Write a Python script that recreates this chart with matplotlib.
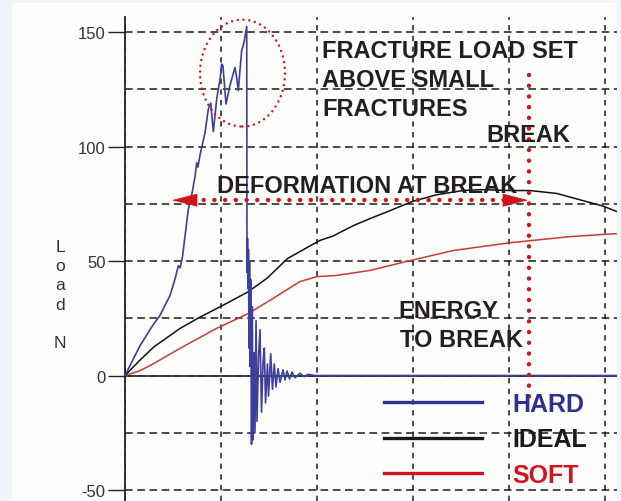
import matplotlib.pyplot as plt
from matplotlib.lines import Line2D
from matplotlib.patches import Ellipse, Rectangle, FancyArrowPatch
from matplotlib.ticker import MultipleLocator

plt.rcParams['axes.unicode_minus'] = False

# load curves, x in grid divisions, y in N
hard_x = [0, 0.156, 0.29, 0.365, 0.469, 0.52, 0.556, 0.575, 0.60, 0.66, 0.70, 0.73,
          0.747, 0.76, 0.78, 0.833, 0.868, 0.893, 0.92, 0.955, 0.99, 1.007, 1.02,
          1.052, 1.094, 1.146, 1.163, 1.18, 1.215, 1.24, 1.268,
          1.271, 1.276, 1.281, 1.286, 1.292, 1.297, 1.302, 1.309, 1.318, 1.326,
          1.333, 1.344, 1.354, 1.365, 1.375, 1.391, 1.406, 1.422, 1.438, 1.451,
          1.464, 1.484, 1.495, 1.518, 1.536, 1.555, 1.573, 1.594, 1.615, 1.646,
          1.667, 1.688, 1.714, 1.740, 1.771, 1.823, 1.865, 1.906, 1.979, 5.2]
hard_y = [0, 13, 22, 26.3, 35, 42, 48, 47, 52.3, 72.7, 80, 87,
          93, 91, 96, 106, 116.4, 119, 106.5, 120.7, 129.5, 136, 135.3,
          118.6, 126.8, 134.6, 130.2, 124.4, 141.8, 145.5, 152.5,
          45, 60, 38, 55, 12, 50, 4, 42, -30, 30,
          -28, 10, -25, 24, -20, 8, 20, -16, 6, 12,
          -12, 5, -9, 9.5, -6, 5, -5, 3, -3, 2.5,
          -2, 2, -1.5, 1.5, -1, 1, -0.5, 0.5, 0, 0]

ideal_x = [0, 0.15, 0.30, 0.47, 0.57, 0.78, 0.99, 1.28, 1.48, 1.69, 1.90, 2.03, 2.17,
           2.38, 2.55, 2.76, 2.99, 3.25, 3.52, 3.70, 4.01, 4.22, 4.50, 4.77, 4.98, 5.125]
ideal_y = [0, 6.5, 12.5, 17.5, 20.5, 25.5, 30, 36.5, 42.5, 51, 56, 59, 61,
           65.5, 68.5, 72, 76, 79, 80.8, 81.2, 80.8, 80.8, 79.5, 76.4, 74, 71.6]

soft_x = [0, 0.15, 0.29, 0.57, 0.95, 1.28, 1.54, 1.82, 2.0, 2.2, 2.55, 2.97, 3.42,
          4.01, 4.64, 5.125]
soft_y = [0, 2, 5, 11.8, 20.5, 27, 33.6, 41, 43.2, 43.7, 45.9, 50.2, 54.6,
          58, 60.7, 62]

y_ticks = [-50, 0, 50, 100, 150]
legend_labels = ["HARD", "IDEAL", "SOFT"]

# annotation anchors (data units)
NOTE_X = 2.052
NOTE_LINES = ["FRACTURE LOAD SET", "ABOVE SMALL", "FRACTURES"]
NOTE_BASE = [139.1, 126.4, 113.8]
BREAK_X = 4.205
DEFORM_Y = 76.6
ARROW_L, ARROW_R = 0.49, 4.198

RED = '#d0141e'
TXT = '#231f20'
BOLD = dict(family='Liberation Sans', weight='bold', size=17, color=TXT)

fig = plt.figure(figsize=(6.21, 5.02), dpi=100)
fig.patch.set_facecolor('#eef6fb')
fig.add_artist(Rectangle((12 / 621, 0), 605 / 621, 498 / 502, transform=fig.transFigure,
                         facecolor='#fdfdfc', edgecolor='none', zorder=-5))

ax = fig.add_axes([125 / 621, 0, 492 / 621, 484 / 502])
ax.set_facecolor('none')
ax.set_xlim(0, 5.125)
ax.set_ylim(-54.8, 156.6)

for s in ['top', 'right', 'bottom']:
    ax.spines[s].set_visible(False)
ax.spines['left'].set_linewidth(1.3)
ax.spines['left'].set_color('#222')

ax.set_yticks(y_ticks)
ax.yaxis.set_minor_locator(MultipleLocator(25))
ax.xaxis.set_major_locator(MultipleLocator(1))
ax.tick_params(axis='y', which='major', length=12, width=1, direction='out', pad=2,
               labelsize=12, labelcolor='#333', color='#222')
ax.tick_params(axis='y', which='minor', length=0)
ax.tick_params(axis='x', length=0, labelbottom=False)
for lab in ax.get_yticklabels():
    lab.set_family('Liberation Sans')

ax.yaxis.grid(True, which='both', color='#1a1a1a', lw=1.1, ls=(0, (5, 3)))
ax.xaxis.grid(True, which='major', color='#1a1a1a', lw=1.1, ls=(0, (3.5, 3.5)))
ax.set_axisbelow(True)
ax.axhline(0, color='#333', lw=1.3, zorder=1.5)

ax.plot(soft_x, soft_y, color='#c83a3a', lw=1.1, zorder=3)
ax.plot(ideal_x, ideal_y, color='#111111', lw=1.1, zorder=3)
ax.plot(hard_x, hard_y, color='#3e3e9e', lw=1.2, zorder=4)

# dotted ellipse round the small fractures
ax.add_patch(Ellipse((1.224, 132.1), 0.885, 46.7, fill=False, edgecolor=RED, lw=1.8,
                     ls=(0, (0.01, 2.3)), capstyle='round', zorder=5))

# deformation at break: dotted double arrow
dots = dict(color=RED, lw=3.2, ls=(0, (0.01, 2.4)), dash_capstyle='round', zorder=5)
ax.plot([ARROW_L + 0.22, ARROW_R - 0.22], [DEFORM_Y, DEFORM_Y], **dots)
for tip, base in [(ARROW_L, ARROW_L + 0.25), (ARROW_R, ARROW_R - 0.25)]:
    ax.add_patch(FancyArrowPatch((base, DEFORM_Y), (tip, DEFORM_Y),
                                 arrowstyle='-|>,head_length=0.85,head_width=0.22',
                                 mutation_scale=20, shrinkA=0, shrinkB=0,
                                 color=RED, lw=0.5, zorder=5))

# break marker
ax.plot([BREAK_X, BREAK_X], [131.4, -13.1], **dots)

for line, yb in zip(NOTE_LINES, NOTE_BASE):
    ax.text(NOTE_X, yb, line, va='baseline', ha='left', zorder=6, **BOLD)
ax.text(3.76, 102.5, "BREAK", va='baseline', ha='left', zorder=6, **BOLD)
ax.text(0.958, 80.1, "DEFORMATION AT BREAK", va='baseline', ha='left', zorder=6, **BOLD)
ax.text(2.844, 25.4, "ENERGY", va='baseline', ha='left', zorder=6, **BOLD)
ax.text(2.865, 12.9, "TO BREAK", va='baseline', ha='left', zorder=6, **BOLD)

handle_colors = ['#2e3192', '#1a1a1a', '#d0141e']
handles = [Line2D([], [], color=c, lw=2.4) for c in handle_colors]
leg = ax.legend(handles, legend_labels, loc='upper left', bbox_to_anchor=(0.526, 0.2255),
                frameon=False, borderaxespad=0, borderpad=0, handlelength=3.92,
                handletextpad=1.24, labelspacing=0.46,
                prop=dict(family='Liberation Sans', weight='bold', size=18))
for t, c in zip(leg.get_texts(), handle_colors):
    t.set_color(c)

fig.text(60 / 621, 1 - 295.5 / 502, "L\no\na\nd\n\nN", ha='center', va='center',
         fontsize=12.5, family='Liberation Sans', color='#333', linespacing=1.35)

fig.savefig('out.png', dpi=100, facecolor=fig.get_facecolor())
